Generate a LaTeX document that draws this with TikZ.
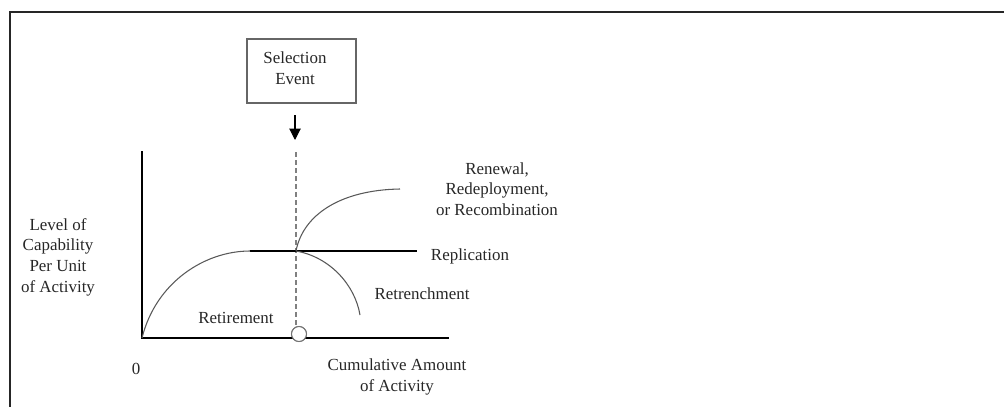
\documentclass[tikz,border=0pt]{standalone}
\usepackage{fontspec}
\setmainfont{Liberation Serif}
\usetikzlibrary{arrows.meta}
\begin{document}
\begin{tikzpicture}[x=0.75pt,y=-0.75pt,
  lbl/.style={font=\fontsize{12.7}{15.5}\selectfont,align=center,text=black!85,inner sep=0pt},
  curve/.style={draw,black!65,line width=0.8pt}]
\useasboundingbox (0,0) rectangle (1004,407);
\path[draw,line width=1.5pt,black!85] (10,407) -- (10,12) -- (1004,12);

\node[draw=black!60,line width=0.8pt,minimum width=81.75pt,minimum height=48pt] (selbox) at (301.5,71) {};
\node[lbl] (seltext) at (295,68.5) {Selection\\Event};

\coordinate (atail) at (295,115);
\coordinate (ahead) at (295,140);
\path[draw,line width=0.8pt,-{Triangle[length=8.5pt,width=8.5pt]}] (atail) -- (ahead);

\coordinate (O) at (142,338);
\coordinate (ytop) at (142,151);
\coordinate (xend) at (449,338);
\coordinate (knee) at (250,251);
\coordinate (P) at (296,251);
\coordinate (repend) at (417,251);
\coordinate (renend) at (400,189);
\coordinate (retend) at (360,315);
\coordinate (dashtop) at (296,152);

\node[circle,draw=black!55,fill=white,line width=0.8pt,minimum size=11.25pt,inner sep=0pt] (sel0) at (299,334) {};
\path[draw,black!50,line width=0.8pt,dash pattern=on 4pt off 2pt] (dashtop) -- (dashtop |- sel0.north);

\path[draw,line width=1pt,-] (ytop) -- (O) -- (xend);
\path[draw,line width=1pt,-] (knee) -- (repend);
\path[curve] (O) .. controls (156,282) and (205,251) .. (knee);
\path[curve] (P) .. controls (303,215) and (340,190) .. (renend);
\path[curve] (P) .. controls (330,257) and (355,285) .. (retend);
\node[circle,draw=black!55,fill=white,line width=0.8pt,minimum size=11.25pt,inner sep=0pt] at (sel0) {};

\node[lbl] (renew) at (497,189) {Renewal,\\Redeployment,\\or Recombination};
\node[lbl] (repl) at (470,256) {Replication};
\node[lbl] (retr) at (422,294) {Retrenchment};
\node[lbl] (retir) at (236,318) {Retirement};
\node[lbl] (ylab) at (58,257) {Level of\\Capability\\Per Unit\\of Activity};
\node[lbl] (zero) at (136,369) {0};
\node[lbl] (xlab) at (397,377) {Cumulative Amount\\of Activity};

\end{tikzpicture}
\end{document}
